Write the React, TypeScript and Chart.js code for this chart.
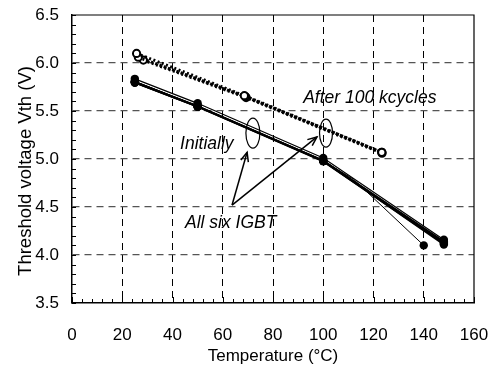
import React, { useEffect, useRef } from "react";
import { Chart, registerables } from "chart.js";

Chart.register(...registerables);

// ---- data ----
const xTickValues = [0, 20, 40, 60, 80, 100, 120, 140, 160];
const xTickLabels = ["0", "20", "40", "60", "80", "100", "120", "140", "160"];
const yTickValues = [3.5, 4.0, 4.5, 5.0, 5.5, 6.0, 6.5];
const yTickLabels = ["3.5", "4.0", "4.5", "5.0", "5.5", "6.0", "6.5"];
const xTitle = "Temperature (°C)";
const yTitle = "Threshold voltage Vth (V)";

// initial (six IGBTs)
const tempInitial = [25, 50, 100, 148];
const vthInitial1 = [5.835, 5.58, 5.01, 4.16];
const vthInitial2 = [5.8, 5.55, 4.98, 4.14];
const vthInitial3 = [5.795, 5.545, 4.975, 4.12];
const vthInitial4 = [5.805, 5.55, 4.985, 4.13];
const vthInitial5 = [5.8, 5.545, 4.98, 4.11];
const tempInitial6 = [25, 50, 100, 112, 140];
const vthInitial6 = [5.81, 5.55, 4.98, 4.79, 4.1];

// after 100 kcycles
const tempAfter1 = [25.7, 68.6, 123.3];
const vthAfter1 = [6.1, 5.66, 5.07];
const tempAfter2 = [26.4, 69.0, 123.3];
const vthAfter2 = [6.06, 5.65, 5.07];
const tempAfter3 = [28.4, 69.3, 123.4];
const vthAfter3 = [6.03, 5.64, 5.06];

// annotation anchors (data coordinates)
const labelAfter = { text: "After 100 kcycles", x: 92, y: 5.63 };
const labelInitially = { text: "Initially", x: 43, y: 5.16 };
const labelAllSix = { text: "All six IGBT", x: 45, y: 4.33 };
const ellipseInitial = { x: 72, y: 5.27, rx: 7, ry: 15 };
const ellipseAfter = { x: 101.1, y: 5.27, rx: 6.5, ry: 14 };
const arrowOrigin = { x: 63.7, y: 4.52 };
const arrowTips = [
  { x: 69.7, y: 5.07 },
  { x: 97.5, y: 5.23 },
];

const FONT = "'Liberation Sans', Arial, sans-serif";

const pts = (xs: number[], ys: number[]) => xs.map((x, i) => ({ x, y: ys[i] }));

const solid = (xs: number[], ys: number[], width: number, radii?: number[]) => ({
  data: pts(xs, ys),
  showLine: true,
  borderColor: "#000",
  backgroundColor: "#000",
  borderWidth: width,
  pointRadius: radii || 4.2,
  pointBorderWidth: 0,
  pointBackgroundColor: "#000",
  tension: 0,
});

const dotted = (xs: number[], ys: number[]) => ({
  data: pts(xs, ys),
  showLine: true,
  borderColor: "#000",
  backgroundColor: "#fff",
  borderWidth: 3,
  borderDash: [2, 2.5],
  pointRadius: 3.6,
  pointBorderWidth: 2,
  pointBorderColor: "#000",
  pointBackgroundColor: "#fff",
  tension: 0,
});

const decorPlugin = {
  id: "decor",
  beforeDatasetsDraw(chart: any) {
    const { ctx, chartArea: a, scales } = chart;
    const x = scales.x, y = scales.y;
    ctx.save();
    ctx.strokeStyle = "#000";
    ctx.lineWidth = 1;
    for (let v = 0; v <= 160; v += 4) {
      const px = Math.round(x.getPixelForValue(v)) + 0.5;
      const len = v % 20 === 0 ? 6 : 4;
      ctx.beginPath();
      ctx.moveTo(px, a.bottom);
      ctx.lineTo(px, a.bottom - len);
      ctx.stroke();
    }
    for (let i = 0; i <= 30; i++) {
      const v = 3.5 + i * 0.1;
      const py = Math.round(y.getPixelForValue(v)) + 0.5;
      ctx.beginPath();
      ctx.moveTo(a.left, py);
      ctx.lineTo(a.left + 4, py);
      ctx.stroke();
    }
    ctx.lineWidth = 1.2;
    ctx.beginPath();
    ctx.moveTo(a.left, a.top);
    ctx.lineTo(a.right, a.top);
    ctx.lineTo(a.right, a.bottom);
    ctx.stroke();
    ctx.restore();
  },
  afterDatasetsDraw(chart: any) {
    const { ctx, scales, chartArea: a } = chart;
    const x = scales.x, y = scales.y;
    const px = (v: number) => x.getPixelForValue(v);
    const py = (v: number) => y.getPixelForValue(v);
    ctx.save();
    ctx.strokeStyle = "#000";
    ctx.fillStyle = "#000";
    ctx.lineWidth = 1.2;
    [ellipseInitial, ellipseAfter].forEach((e) => {
      ctx.beginPath();
      ctx.ellipse(px(e.x), py(e.y), e.rx, e.ry, 0, 0, Math.PI * 2);
      ctx.stroke();
    });
    ctx.lineWidth = 1.5;
    const ox = px(arrowOrigin.x), oy = py(arrowOrigin.y);
    arrowTips.forEach((t) => {
      const tx = px(t.x), ty = py(t.y);
      ctx.beginPath();
      ctx.moveTo(ox, oy);
      ctx.lineTo(tx, ty);
      ctx.stroke();
      const ang = Math.atan2(ty - oy, tx - ox);
      const L = 10, spread = 0.4;
      ctx.beginPath();
      ctx.moveTo(tx - L * Math.cos(ang - spread), ty - L * Math.sin(ang - spread));
      ctx.lineTo(tx, ty);
      ctx.lineTo(tx - L * Math.cos(ang + spread), ty - L * Math.sin(ang + spread));
      ctx.stroke();
    });
    ctx.font = `italic 17.5px ${FONT}`;
    ctx.textAlign = "left";
    ctx.textBaseline = "middle";
    [labelAfter, labelInitially, labelAllSix].forEach((l) => {
      ctx.fillText(l.text, px(l.x), py(l.y));
    });
    // y-axis title
    ctx.save();
    ctx.translate(a.left - 46, (a.top + a.bottom) / 2 + 12);
    ctx.rotate(-Math.PI / 2);
    ctx.textAlign = "center";
    ctx.textBaseline = "middle";
    ctx.font = `18.5px ${FONT}`;
    ctx.fillText(yTitle, 0, 0);
    ctx.restore();
    ctx.restore();
  },
};

export default function App() {
  const ref = useRef<HTMLCanvasElement>(null);
  useEffect(() => {
    if (!ref.current) return;
    const chart = new Chart(ref.current, {
      type: "scatter",
      data: {
        datasets: [
          solid(tempInitial, vthInitial2, 2),
          solid(tempInitial, vthInitial3, 2),
          solid(tempInitial, vthInitial5, 2),
          solid(tempInitial, vthInitial4, 1.5),
          solid(tempInitial, vthInitial1, 1.2),
          solid(tempInitial6, vthInitial6, 1, [4.2, 4.2, 4.2, 0, 4.2]),
          dotted(tempAfter1, vthAfter1),
          dotted(tempAfter2, vthAfter2),
          dotted(tempAfter3, vthAfter3),
        ] as any,
      },
      options: {
        animation: false,
        responsive: false,
        devicePixelRatio: 1,
        layout: { padding: { left: 0, top: 15, right: 20, bottom: 0 } },
        plugins: { legend: { display: false }, tooltip: { enabled: false } },
        scales: {
          x: {
            type: "linear",
            min: 0,
            max: 160,
            afterFit: (s: any) => {
              s.height = 64;
              s.paddingLeft = 0;
              s.paddingRight = 0;
            },
            afterBuildTicks: (s: any) => {
              s.ticks = xTickValues.map((v) => ({ value: v }));
            },
            ticks: {
              color: "#000",
              font: { family: FONT, size: 17 },
              padding: 22,
              maxRotation: 0,
              callback: (v: any) => {
                const i = xTickValues.indexOf(Number(v));
                return i >= 0 ? xTickLabels[i] : "";
              },
            },
            grid: {
              drawTicks: false,
              lineWidth: 1,
              color: (c: any) =>
                c.tick && (c.tick.value === 0 || c.tick.value === 160) ? "rgba(0,0,0,0)" : "#000",
            },
            border: { display: true, color: "#000", width: 1.5, dash: [7, 5] },
            title: {
              display: true,
              text: xTitle,
              color: "#000",
              font: { family: FONT, size: 17 },
              padding: { top: 0, bottom: 0 },
            },
          },
          y: {
            type: "linear",
            min: 3.5,
            max: 6.5,
            afterFit: (s: any) => {
              s.width = 72;
              s.paddingTop = 0;
              s.paddingBottom = 0;
            },
            afterBuildTicks: (s: any) => {
              s.ticks = yTickValues.map((v) => ({ value: v }));
            },
            ticks: {
              color: "#000",
              font: { family: FONT, size: 17 },
              padding: 13,
              callback: (v: any) => {
                const i = yTickValues.findIndex((t) => Math.abs(t - Number(v)) < 1e-6);
                return i >= 0 ? yTickLabels[i] : "";
              },
            },
            grid: {
              drawTicks: false,
              lineWidth: 1.2,
              color: (c: any) =>
                c.tick && (Math.abs(c.tick.value - 3.5) < 1e-6 || Math.abs(c.tick.value - 6.5) < 1e-6)
                  ? "rgba(0,0,0,0)"
                  : "#555",
            },
            border: { display: true, color: "#000", width: 1.5, dash: [7, 5] },
            title: { display: false },
          },
        },
      },
      plugins: [decorPlugin],
    });
    return () => chart.destroy();
  }, []);
  return (
    <div style={{ position: "absolute", left: 0, top: 0, width: 494, height: 367, background: "#fff" }}>
      <canvas ref={ref} width={494} height={367} style={{ display: "block", width: 494, height: 367 }} />
    </div>
  );
}
